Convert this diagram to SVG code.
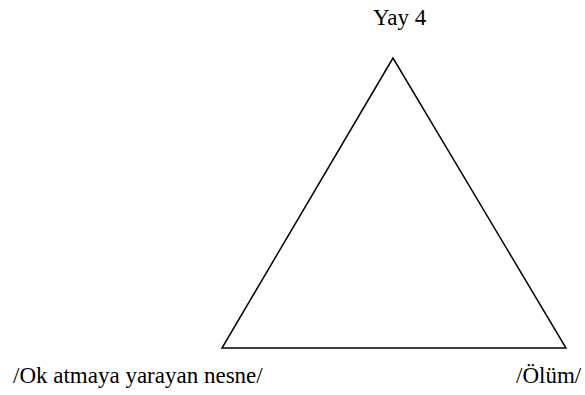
<svg xmlns="http://www.w3.org/2000/svg" width="585" height="395" viewBox="0 0 585 395">
<style>
.lbl{font-family:"Liberation Serif","Times New Roman",serif;font-size:23px;fill:#000}
.edge{stroke:#000;stroke-width:1.5;fill:none}
</style>
<rect width="585" height="395" fill="#fff"/>
<g id="connectors">
<path class="edge" d="M393,58 L222,348 L566,348 Z" stroke-linejoin="miter"/>
</g>
<g id="node-yay4"><text class="lbl" x="373" y="25">Yay 4</text></g>
<g id="node-ok"><text class="lbl" x="13" y="383">/Ok atmaya yarayan nesne/</text></g>
<g id="node-olum"><text class="lbl" x="516" y="383">/Ölüm/</text></g>
</svg>
